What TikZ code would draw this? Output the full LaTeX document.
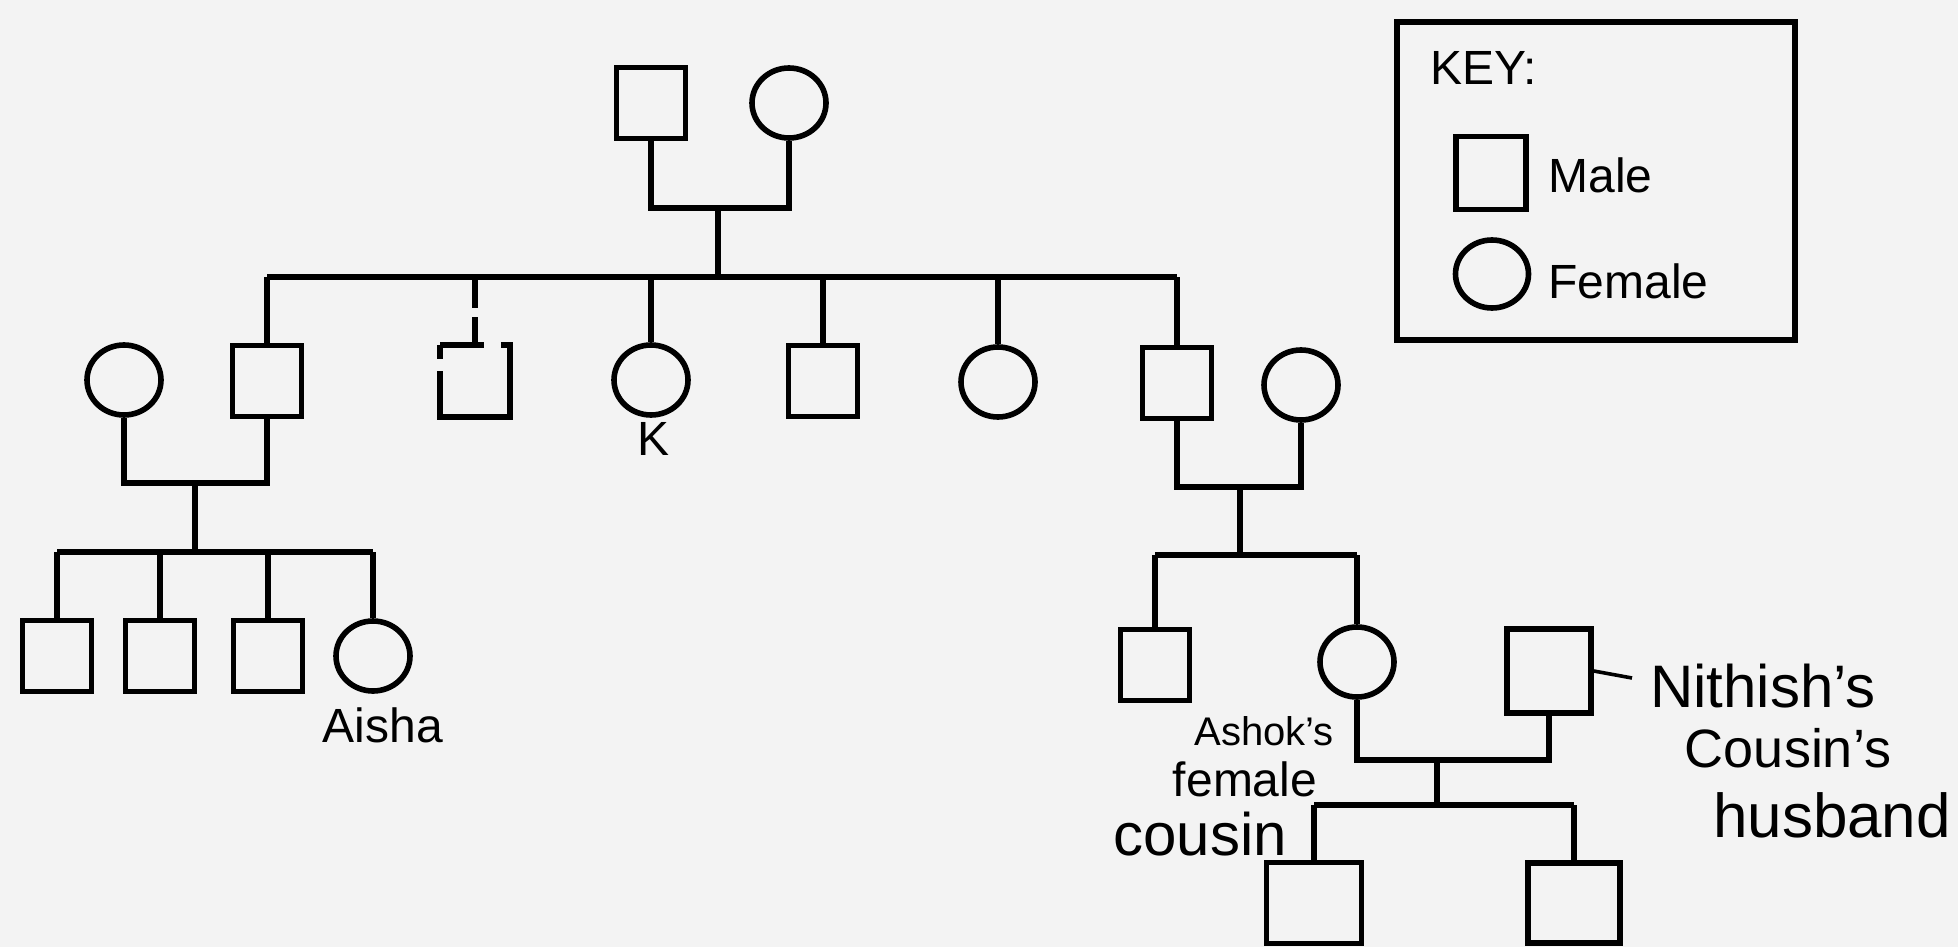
\documentclass[tikz,border=0pt]{standalone}
\usepackage{fontspec}
\setmainfont{Liberation Sans}
\usetikzlibrary{shapes.geometric}
\definecolor{bg}{RGB}{243,243,243}
\begin{document}
\begin{tikzpicture}[x=0.5pt,y=-0.5pt,
  male/.style={draw, rectangle, inner sep=0, minimum width=34.5pt, minimum height=35.5pt, line width=2.8pt},
  fem/.style={draw, ellipse, inner sep=0, minimum width=37pt, minimum height=35pt, line width=2.8pt},
  link/.style={line width=2.8pt, line join=miter},
  lbl/.style={inner sep=0, font=\fontsize{24}{28}\selectfont},
  hand/.style={inner sep=0, text=black}
]
\fill[bg] (0,0) rectangle (1958,947);
\useasboundingbox (0,0) rectangle (1958,947);

% generation 1
\node[male] (gf) at (651,103) {};
\node[fem]  (gm) at (789,103) {};
\coordinate (c1) at (718,208);
\coordinate (c2) at (718,277);
\draw[link] (gf.south) |- (c1) -| (gm.south);
\draw[link] (c1) -- (c2);

% generation 2
\node[fem]  (sl) at (124,380) {};
\node[male] (b1) at (267,381) {};
\node[rectangle, inner sep=0, minimum width=34.5pt, minimum height=35.5pt] (b2) at (475,381) {};
\node[fem]  (k)  at (651,380) {};
\node[male] (b4) at (823,381) {};
\node[fem]  (b5) at (998,382) {};
\node[male] (b6) at (1177,383) {};
\node[fem]  (sr) at (1301,385) {};
\node[lbl, anchor=base] (klbl) at (653,455) {K};

\draw[link] (b1.north |- c2) -- (b6.north |- c2);
\foreach \n in {b1,k,b4,b5,b6} \draw[link] (\n.north |- c2) -- (\n.north);
% faded square
\draw[link] (b2.north |- c2) -- ++(0,31);
\draw[link] (b2.north) ++(0,-28) -- (b2.north);
\draw[link] (b2.north west) -- ++(44,0);
\draw[link] (b2.north east) ++(-9,0) -- (b2.north east) -- (b2.south east) -- (b2.south west) -- ++(0,-46);
\draw[link] (b2.north west) -- ++(0,14);

% left family
\coordinate (c3) at (195,483);
\coordinate (c4) at (195,552);
\draw[link] (sl.south) |- (c3) -| (b1.south);
\draw[link] (c3) -- (c4);
\node[male] (g1) at (57,656) {};
\node[male] (g2) at (160,656) {};
\node[male] (g3) at (268,656) {};
\node[fem]  (ai) at (373,656) {};
\node[lbl, anchor=base] (ailbl) at (383,742) {Aisha};
\draw[link] (g1.north |- c4) -- (ai.north |- c4);
\foreach \n in {g1,g2,g3,ai} \draw[link] (\n.north |- c4) -- (\n.north);

% right family
\coordinate (c5) at (1240,487);
\coordinate (c6) at (1240,555);
\draw[link] (b6.south) |- (c5) -| (sr.south);
\draw[link] (c5) -- (c6);
\node[male] (r1) at (1155,665) {};
\node[fem]  (r2) at (1357,662) {};
\draw[link] (r1.north |- c6) -- (r2.north |- c6);
\foreach \n in {r1,r2} \draw[link] (\n.north |- c6) -- (\n.north);

% hand-drawn additions
\node[draw, rectangle, inner sep=0, minimum width=42pt, minimum height=42pt, line width=2.8pt] (hus) at (1549,671) {};
\coordinate (c7) at (1437,760);
\coordinate (c8) at (1437,805);
\draw[link] (r2.south) |- (c7) -| (hus.south);
\draw[link] (c7) -- (c8);
\node[draw, rectangle, inner sep=0, minimum width=47.5pt, minimum height=40.5pt, line width=2.8pt] (h1) at (1314,903) {};
\node[draw, rectangle, inner sep=0, minimum width=46pt, minimum height=40pt, line width=2.8pt] (h2) at (1574,903) {};
\draw[link] (h1.north |- c8) -- (h2.north |- c8);
\foreach \n in {h1,h2} \draw[link] (\n.north |- c8) -- (\n.north);

\node[hand, font=\fontsize{30}{32}\selectfont] (nith) at (1763,686) {Nithish's};
\node[hand, font=\fontsize{27}{30}\selectfont] (cous2) at (1788,748) {Cousin's};
\node[hand, font=\fontsize{31}{34}\selectfont] (husb) at (1832,815) {husband};
\coordinate (nt) at (1632,678);
\draw[line width=1.8pt] (hus.east) -- (nt);
\node[hand, font=\fontsize{20}{24}\selectfont] (ashok) at (1264,731) {Ashok's};
\node[hand, font=\fontsize{24}{28}\selectfont] (femt) at (1245,779) {female};
\node[hand, font=\fontsize{30}{34}\selectfont] (cous1) at (1200,834) {cousin};

% key
\node[draw, rectangle, inner sep=0, minimum width=199pt, minimum height=159pt, line width=2.8pt] (key) at (1596,181) {};
\node[lbl, anchor=base west] (keyt) at (1430,85) {KEY:};
\node[male, minimum width=35pt, minimum height=36.5pt] (km) at (1491,173) {};
\node[lbl, anchor=base west] (kml) at (1548,192) {Male};
\node[fem, minimum width=36.5pt, minimum height=34pt] (kf) at (1492,274) {};
\node[lbl, anchor=base west] (kfl) at (1548,298) {Female};
\end{tikzpicture}
\end{document}
